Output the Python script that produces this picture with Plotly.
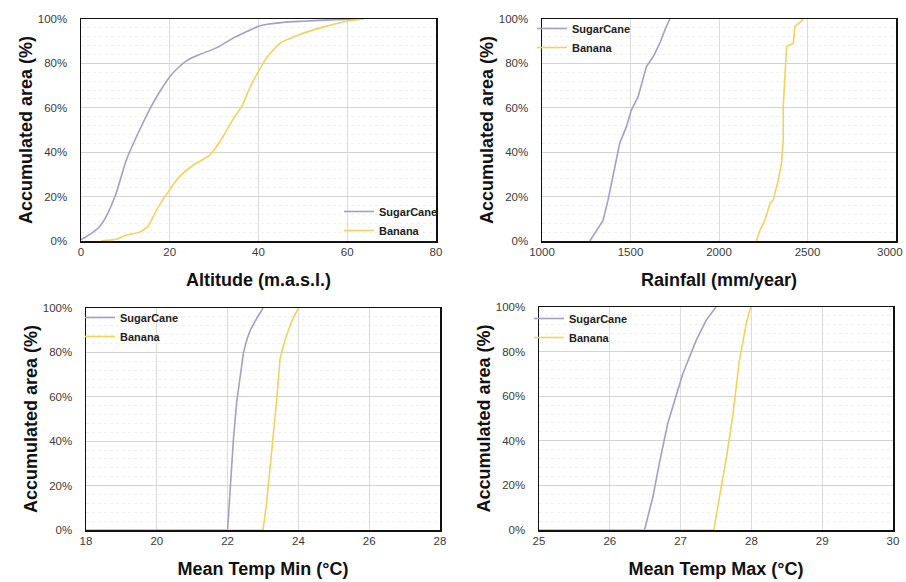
import plotly.graph_objects as go

# ---------------- data ----------------
alt_sugar_x = [0, 2, 4.1, 5.6, 7.9, 10.2, 13.2, 16.2, 18.5, 20, 22.2, 24, 26.7, 30.5, 34.3, 37, 40, 42, 45.6, 50, 55, 60, 63.7]
alt_sugar_y = [0.6, 3, 6.3, 10.8, 21.4, 36.4, 50, 62, 69.6, 74, 78.6, 81.5, 84, 87, 91.4, 94, 96.7, 97.6, 98.5, 99, 99.5, 99.8, 100]
alt_banana_x = [4.5, 7.9, 10.2, 13.2, 15.1, 17, 19.6, 22.2, 25.2, 29, 31.3, 34.3, 36.2, 38, 40, 41.8, 44.8, 49.3, 53.9, 59.9, 63.7]
alt_banana_y = [0, 0.75, 2.6, 4, 6.6, 13.9, 22, 29, 34, 38.7, 44.7, 55, 60.5, 68.8, 76.4, 82.4, 89, 93, 96, 99, 100]

rain_sugar_x = [1270, 1307, 1345, 1373, 1401, 1439, 1477, 1505, 1543, 1571, 1590, 1628, 1665, 1694, 1722]
rain_sugar_y = [0, 4.8, 9.3, 18.4, 29, 44, 51.5, 59, 65, 72.6, 78.6, 83, 89, 95, 100]
rain_banana_x = [2212, 2231, 2259, 2288, 2306, 2335, 2353, 2363, 2363, 2372, 2382, 2420, 2429, 2466, 2476]
rain_banana_y = [0, 4.8, 9.3, 16.9, 18.4, 27.4, 35, 45.5, 60.5, 74, 87.7, 89, 96.7, 99, 100]

tmin_sugar_x = [18, 22.0, 22.08, 22.17, 22.26, 22.36, 22.45, 22.55, 22.64, 22.83, 23.0]
tmin_sugar_y = [0, 0, 20, 42, 58, 70, 80, 86, 90, 95.5, 100]
tmin_banana_x = [18, 23.0, 23.1, 23.25, 23.39, 23.48, 23.63, 23.81, 24.0]
tmin_banana_y = [0, 0, 12, 36, 59, 77, 86, 94, 100]

tmax_sugar_x = [25, 26.49, 26.61, 26.70, 26.82, 26.94, 27.03, 27.22, 27.36, 27.5]
tmax_sugar_y = [0, 0, 15, 30, 48, 61, 70, 85, 94, 100]
tmax_banana_x = [25, 27.47, 27.55, 27.65, 27.74, 27.83, 27.93, 27.99]
tmax_banana_y = [0, 0, 15, 33, 52, 76, 93, 100]

series_names = ["SugarCane", "Banana"]
y_ticks = [0, 20, 40, 60, 80, 100]
y_tick_text = ["0%", "20%", "40%", "60%", "80%", "100%"]
rain_ticks = [1000, 1500, 2000, 2500, 3000]
rain_tick_text = ["1000", "1500", "2000", "2500", "3000"]

# ---------------- styling ----------------
SUGAR = "#a49fc6"
BANANA = "#efd35c"
FONT = "Liberation Sans"

fig = go.Figure()

panels = [
    ("", alt_sugar_x, alt_sugar_y, alt_banana_x, alt_banana_y, "legend", "spline"),
    ("2", rain_sugar_x, rain_sugar_y, rain_banana_x, rain_banana_y, "legend2", "linear"),
    ("3", tmin_sugar_x, tmin_sugar_y, tmin_banana_x, tmin_banana_y, "legend3", "linear"),
    ("4", tmax_sugar_x, tmax_sugar_y, tmax_banana_x, tmax_banana_y, "legend4", "linear"),
]
for suf, sx, sy, bx, by, lg, shape in panels:
    extra = dict(smoothing=0.5) if shape == "spline" else {}
    fig.add_trace(go.Scatter(x=sx, y=sy, mode="lines", name=series_names[0],
                             line=dict(color=SUGAR, width=1.6, shape=shape, **extra),
                             xaxis="x" + suf, yaxis="y" + suf, legend=lg))
    fig.add_trace(go.Scatter(x=bx, y=by, mode="lines", name=series_names[1],
                             line=dict(color=BANANA, width=1.6, shape=shape, **extra),
                             xaxis="x" + suf, yaxis="y" + suf, legend=lg))

W, H = 906, 582
def dx(a, b):
    return [a / W, b / W]
def dy(top, bot):
    return [1 - bot / H, 1 - top / H]

xdefs = [
    ("xaxis", dx(81, 436), [0, 80], 20, "Altitude (m.a.s.l.)", "y"),
    ("xaxis2", dx(542, 896), [1000, 3000], 500, "Rainfall (mm/year)", "y2"),
    ("xaxis3", dx(86, 440), [18, 28], 2, "Mean Temp Min (°C)", "y3"),
    ("xaxis4", dx(539, 893), [25, 30], 1, "Mean Temp Max (°C)", "y4"),
]
ydefs = [
    ("yaxis", dy(19, 241), "x"),
    ("yaxis2", dy(19, 241), "x2"),
    ("yaxis3", dy(308, 530), "x3"),
    ("yaxis4", dy(307, 530), "x4"),
]

layout = dict(
    width=W, height=H,
    margin=dict(l=0, r=0, t=0, b=0, autoexpand=False),
    paper_bgcolor="white", plot_bgcolor="white",
    font=dict(family=FONT, color="#333333"),
    showlegend=True,
)
tickfont = dict(family=FONT, size=11.5, color="#3a3a3a")
for name, dom, rng, dt, title, anchor in xdefs:
    layout[name] = dict(
        domain=dom, range=rng, dtick=dt, tick0=rng[0], anchor=anchor, automargin=False,
        showgrid=True, gridcolor="#dcdcdc", gridwidth=1,
        showline=True, mirror=True, linecolor="#111111", linewidth=1.5,
        zeroline=False, ticks="", ticklabelstandoff=0, ticklabeloverflow="allow",
        tickfont=tickfont,
        title=dict(text=title, font=dict(family=FONT, size=18, color="#111111", weight="bold"), standoff=16),
    )
# last rainfall tick label sits at the figure edge: draw it as a right-anchored label instead
layout["xaxis2"]["tickvals"] = rain_ticks
layout["xaxis2"]["ticktext"] = rain_tick_text[:-1] + [""]

for name, dom, anchor in ydefs:
    layout[name] = dict(
        domain=dom, range=[0, 100], tickvals=y_ticks, ticktext=y_tick_text, anchor=anchor, automargin=False,
        showgrid=True, gridcolor="#d4d4d4", gridwidth=1,
        minor=dict(dtick=4, showgrid=True, gridcolor="#efefef", gridwidth=1, griddash="dot"),
        showline=True, mirror=True, linecolor="#111111", linewidth=1.5,
        zeroline=False, ticks="", ticklabelstandoff=10,
        tickfont=tickfont,
        title=dict(text="Accumulated area (%)", font=dict(family=FONT, size=18, color="#111111", weight="bold"), standoff=0),
    )

layout["annotations"] = [dict(
    text=rain_tick_text[-1], x=rain_ticks[-1], xref="x2", xanchor="right", xshift=9,
    y=layout["yaxis2"]["domain"][0], yref="paper", yanchor="top", yshift=-3,
    showarrow=False, font=tickfont,
)]

legend_common = dict(bgcolor="rgba(0,0,0,0)", borderwidth=0, itemwidth=30,
                     font=dict(family=FONT, size=11, color="#222222", weight="bold"),
                     tracegroupgap=0, itemclick=False)
layout["legend"] = dict(legend_common, x=339 / W, y=1 - 197 / H, xanchor="left", yanchor="top")
layout["legend2"] = dict(legend_common, x=532 / W, y=1 - 14 / H, xanchor="left", yanchor="top")
layout["legend3"] = dict(legend_common, x=80 / W, y=1 - 303 / H, xanchor="left", yanchor="top")
layout["legend4"] = dict(legend_common, x=529 / W, y=1 - 304 / H, xanchor="left", yanchor="top")

fig.update_layout(**layout)
fig.write_html("out.html",
               config=dict(displayModeBar=False, staticPlot=True),
               post_script="document.body.style.margin='0';document.body.style.overflow='hidden';")
